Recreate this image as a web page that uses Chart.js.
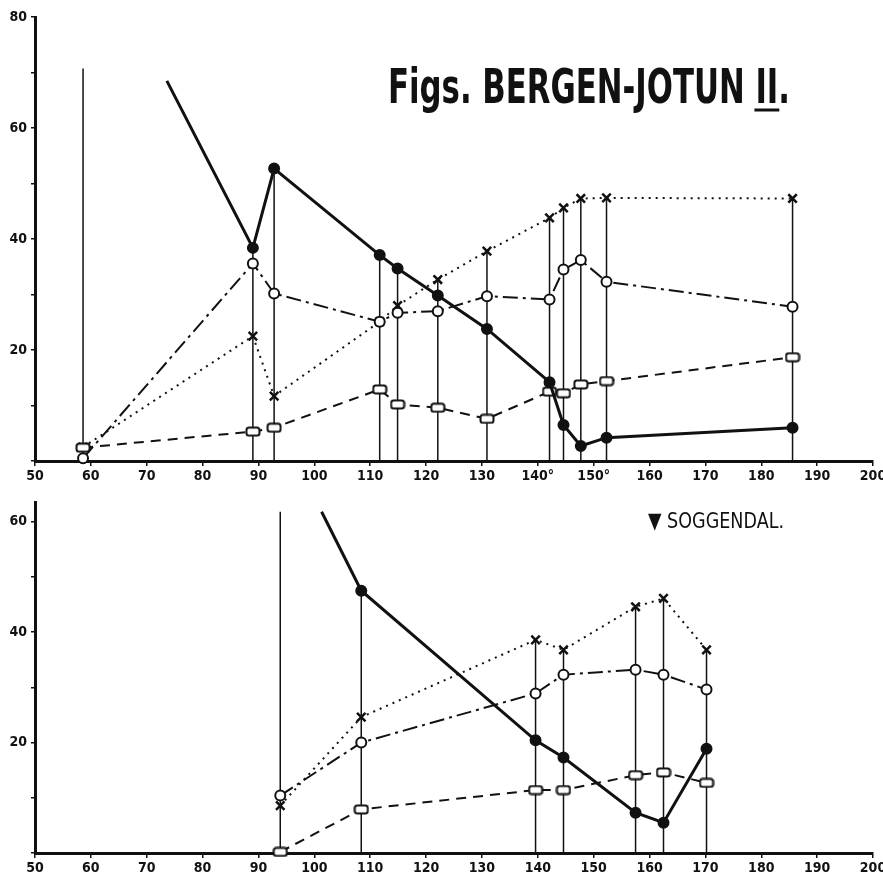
<!DOCTYPE html>
<html>
<head>
<meta charset="utf-8">
<script src="https://cdn.jsdelivr.net/npm/chart.js@4.4.1/dist/chart.umd.min.js"></script>
<style>
  body { margin: 0; background: #fff; width: 883px; height: 879px; position: relative; overflow: hidden; }
  canvas { position: absolute; left: 0; }
  #topChart { top: 0; }
  #botChart { top: 490px; }
</style>
</head>
<body>
<canvas id="topChart" width="883" height="490"></canvas>
<canvas id="botChart" width="883" height="389"></canvas>
<script>
// --- Bergen-Jotun II (upper panel) ---
const topStations = [58.6, 89.0, 92.8, 111.7, 114.9, 122.1, 130.9, 142.1, 144.6, 147.7, 152.3, 185.6];
const topStemTop  = [70.7, 38.4, 52.7, 37.1, 34.7, 32.7, 37.8, 43.8, 45.6, 47.3, 47.4, 47.3];
const topSolidX   = [73.6, 89.0, 92.8, 111.7, 114.9, 122.1, 130.9, 142.1, 144.6, 147.7, 152.3, 185.6];
const topSolidY   = [68.5, 38.4, 52.7, 37.1, 34.7, 29.8, 23.8, 14.2, 6.5, 2.7, 4.2, 6.0];
const topCross    = [2.5, 22.5, 11.7, 25.1, 28.0, 32.7, 37.8, 43.8, 45.6, 47.3, 47.4, 47.3];
const topCircle   = [0.5, 35.6, 30.2, 25.1, 26.7, 27.0, 29.7, 29.1, 34.5, 36.2, 32.3, 27.8];
const topSquare   = [2.4, 5.3, 6.0, 12.9, 10.2, 9.6, 7.6, 12.5, 12.2, 13.8, 14.4, 18.7];
const topXLabels  = ['50', '60', '70', '80', '90', '100', '110', '120', '130', '140°', '150°', '160', '170', '180', '190', '200'];

// --- Soggendal (lower panel) ---
const botStations = [93.9, 108.4, 139.6, 144.6, 157.5, 162.5, 170.2];
const botStemTop  = [61.8, 47.5, 38.6, 36.8, 44.6, 46.1, 36.8];
const botSolidX   = [101.3, 108.4, 139.6, 144.6, 157.5, 162.5, 170.2];
const botSolidY   = [61.8, 47.5, 20.4, 17.3, 7.3, 5.5, 18.9];
const botCross    = [8.6, 24.6, 38.6, 36.8, 44.6, 46.1, 36.8];
const botCircle   = [10.4, 20.0, 28.9, 32.3, 33.2, 32.3, 29.6];
const botSquare   = [0.2, 7.9, 11.4, 11.4, 14.1, 14.6, 12.7];
const botXLabels  = ['50', '60', '70', '80', '90', '100', '110', '120', '130', '140', '150', '160', '170', '180', '190', '200'];

const INK = '#111';
const tickFont = { family: "'Liberation Sans Narrow', 'DejaVu Sans Condensed', sans-serif", size: 14, weight: 'bold' };

// flat rounded rectangle used as the marker of the dashed series
function makeRectMarker() {
    const c = document.createElement('canvas');
    c.width = 16; c.height = 11;
    const g = c.getContext('2d');
    g.fillStyle = '#fff';
    g.strokeStyle = INK;
    g.lineWidth = 2;
    g.beginPath();
    g.roundRect(1.5, 1.5, 13, 8, 2.5);
    g.fill();
    g.stroke();
    return c;
}
const rectMarker = makeRectMarker();

function pairs(xs, ys) {
    return xs.map((x, i) => ({ x: x, y: ys[i] }));
}

// vertical station lines from the axis up to the top reading
function stems(xs, tops) {
    return xs.flatMap((x, i) => [{ x: x, y: 0 }, { x: x, y: tops[i] }, { x: x, y: null }]);
}

function buildDatasets(st, stemTop, solidX, solidY, cross, circle, square, firstSolidBare) {
    return [
        {
            label: 'solid',
            data: pairs(solidX, solidY),
            borderColor: INK, backgroundColor: INK,
            borderWidth: 3,
            pointStyle: 'circle',
            pointRadius: solidX.map((_, i) => (i === 0 && firstSolidBare) ? 0 : 4.5),
            clip: false
        },
        {
            label: 'circle',
            data: pairs(st, circle),
            borderColor: INK, backgroundColor: '#fff',
            borderWidth: 2,
            borderDash: [15, 5, 3, 5],
            pointStyle: 'circle', pointRadius: 5, pointBorderWidth: 2,
            clip: false
        },
        {
            label: 'square',
            data: pairs(st, square),
            borderColor: INK,
            borderWidth: 2,
            borderDash: [10, 7],
            pointStyle: rectMarker,
            clip: false
        },
        {
            label: 'cross',
            data: pairs(st, cross),
            borderColor: INK, backgroundColor: INK,
            borderWidth: 2,
            borderDash: [2, 5],
            pointStyle: 'crossRot', pointRadius: 6, pointBorderWidth: 2.5,
            clip: false
        },
        {
            label: 'stems',
            data: stems(st, stemTop),
            borderColor: INK,
            borderWidth: 1.5,
            pointRadius: 0,
            spanGaps: false,
            clip: false
        }
    ];
}

// hand-lettered captions, squeezed to the width they take in the figure
function fitText(ctx, text, x, baseline, width, font) {
    ctx.save();
    ctx.font = font;
    const w = ctx.measureText(text).width;
    ctx.translate(x, baseline);
    ctx.scale(width / w, 1);
    ctx.fillStyle = INK;
    ctx.textBaseline = 'alphabetic';
    ctx.fillText(text, 0, 0);
    ctx.restore();
    return width / w;
}

const titlePlugin = {
    id: 'titlePlugin',
    afterDraw(chart) {
        const ctx = chart.ctx;
        const font = "bold 48px 'Liberation Sans Narrow', 'DejaVu Sans Condensed', sans-serif";
        const s = fitText(ctx, 'Figs. BERGEN-JOTUN II.', 388, 103, 402, font);
        ctx.save();
        ctx.font = font;
        const pre = ctx.measureText('Figs. BERGEN-JOTUN ').width * s;
        const ii = ctx.measureText('II').width * s;
        ctx.strokeStyle = INK;
        ctx.lineWidth = 3;
        ctx.beginPath();
        ctx.moveTo(388 + pre - 1, 110);
        ctx.lineTo(388 + pre + ii + 1, 110);
        ctx.stroke();
        ctx.restore();
    }
};

const placePlugin = {
    id: 'placePlugin',
    afterDraw(chart) {
        fitText(chart.ctx, '▼ SOGGENDAL.', 648, 38, 136, "22px 'Liberation Sans Narrow', 'DejaVu Sans Condensed', sans-serif");
    }
};

function makeOptions(yMax, padTop, xHeight, xLabels) {
    return {
        responsive: false,
        animation: false,
        layout: { padding: { top: padTop, right: 10, left: 0, bottom: 0 } },
        plugins: { legend: { display: false }, tooltip: { enabled: false } },
        elements: { line: { tension: 0, fill: false } },
        scales: {
            x: {
                type: 'linear', min: 50, max: 200,
                afterFit(scale) {
                    scale.height = xHeight;
                    scale.paddingLeft = 0;
                    scale.paddingRight = 0;
                },
                ticks: {
                    stepSize: 10, color: INK, font: tickFont, padding: 2, maxRotation: 0,
                    callback: (v) => xLabels[Math.round((v - 50) / 10)]
                },
                grid: { drawOnChartArea: false, color: INK, lineWidth: 1.5, tickLength: 5 },
                border: { color: INK, width: 3 }
            },
            y: {
                type: 'linear', min: 0, max: yMax,
                afterFit(scale) { scale.width = 35; },
                afterBuildTicks(scale) {
                    scale.ticks = scale.ticks.filter(t => t.value % 10 === 0);
                },
                ticks: {
                    stepSize: 10, color: INK, font: tickFont, padding: 4,
                    callback: (v) => (v > 0 && v % 20 === 0) ? String(v) : ''
                },
                grid: { drawOnChartArea: false, color: INK, lineWidth: 1.5, tickLength: 4 },
                border: { color: INK, width: 3 }
            }
        }
    };
}

new Chart(document.getElementById('topChart').getContext('2d'), {
    type: 'line',
    data: { datasets: buildDatasets(topStations, topStemTop, topSolidX, topSolidY, topCross, topCircle, topSquare, true) },
    options: makeOptions(80, 17, 29, topXLabels),
    plugins: [titlePlugin]
});

new Chart(document.getElementById('botChart').getContext('2d'), {
    type: 'line',
    data: { datasets: buildDatasets(botStations, botStemTop, botSolidX, botSolidY, botCross, botCircle, botSquare, true) },
    options: makeOptions(63.5, 8, 26, botXLabels),
    plugins: [placePlugin]
});
</script>
</body>
</html>
